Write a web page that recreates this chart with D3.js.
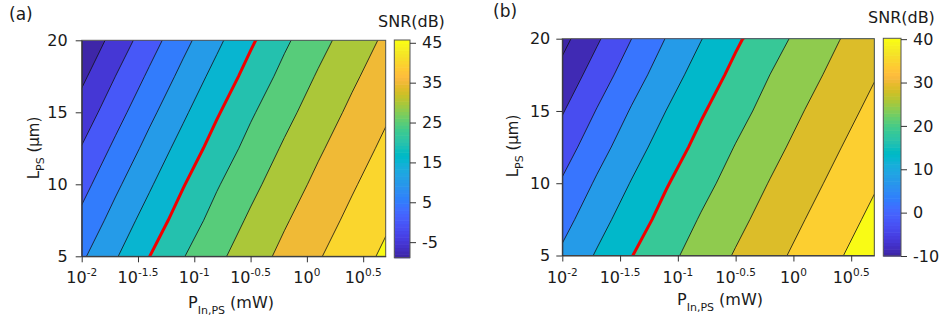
<!DOCTYPE html>
<html><head><meta charset="utf-8">
<script src="https://cdn.jsdelivr.net/npm/d3@7"></script>
<style>
body{margin:0;background:#fff;}
text{font-family:"DejaVu Sans",Arial,sans-serif;fill:#1a1a1a;}
</style>
</head><body>
<svg id="chart" width="944" height="322"></svg>
<script>
// ---------------- data ----------------
// grid columns: log10 of input power P_In,PS (mW)
const pExp = [-2.0, -1.7, -1.4, -1.1, -0.8, -0.5, -0.2, 0.1, 0.4, 0.7];
// grid rows: L_PS (um)
const lengthUm = [5, 7.5, 10, 12.5, 15, 17.5, 20];

// SNR (dB), one row per L value, panel (a)
const snrA = [
  [ 9.24, 14.56, 19.93, 24.76, 28.88, 32.70, 36.27, 39.60, 42.77, 45.90],
  [ 6.28, 11.82, 17.13, 22.25, 26.75, 30.76, 34.48, 37.86, 41.13, 44.27],
  [ 3.28,  9.01, 14.34, 19.70, 24.56, 28.71, 32.54, 36.13, 39.46, 42.64],
  [ 0.26,  6.05, 11.60, 16.90, 22.05, 26.58, 30.61, 34.32, 37.72, 41.00],
  [-2.88,  3.04,  8.77, 14.12, 19.48, 24.36, 28.54, 32.39, 35.99, 39.32],
  [-6.04,  0.01,  5.81, 11.38, 16.68, 21.85, 26.41, 30.45, 34.17, 37.59],
  [-9.19, -3.14,  2.80,  8.53, 13.90, 19.26, 24.16, 28.37, 32.23, 35.85]
];
// SNR (dB), panel (b)
const snrB = [
  [10.89, 15.50, 19.87, 23.65, 27.11, 30.39, 33.51, 36.59, 39.66, 42.72],
  [ 8.27, 13.09, 17.57, 21.67, 25.38, 28.68, 31.87, 34.98, 38.05, 41.12],
  [ 5.52, 10.66, 15.28, 19.65, 23.46, 26.95, 30.24, 33.35, 36.44, 39.51],
  [ 2.60,  8.00, 12.86, 17.35, 21.48, 25.21, 28.52, 31.72, 34.83, 37.90],
  [-0.37,  5.26, 10.43, 15.06, 19.43, 23.27, 26.78, 30.08, 33.19, 36.29],
  [-3.41,  2.32,  7.74, 12.63, 17.14, 21.30, 25.05, 28.35, 31.56, 34.67],
  [-6.45, -0.66,  5.00, 10.20, 14.83, 19.21, 23.08, 26.62, 29.92, 33.04]
];

const levelsA = [-5, 0, 5, 10, 15, 20, 25, 30, 35, 40, 45];
const levelsB = [-5, 0, 5, 10, 15, 20, 25, 30, 35, 40];
const redLevel = 20;

const xTickExps = [-2, -1.5, -1, -0.5, 0, 0.5];
const yTicks = [5, 10, 15, 20];
const cbTicksA = [-5, 5, 15, 25, 35, 45];
const cbTicksB = [-10, 0, 10, 20, 30, 40];
const climA = [-8.9, 45.7];     // colour limits of panel (a)
const climB = [-6.3, 40.2];     // colour limits of the fills of panel (b)
const cbRangeA = [-8.9, 45.7];  // colour bar axis range (a)
const cbRangeB = [-10, 40.2];   // colour bar axis range (b)

// ---------------- style ----------------
const parulaHex = ["#3e26a8","#402ab4","#422ec0","#4332cb","#4537d5","#463cde","#4741e5","#4747eb",
"#484df0","#4852f4","#4758f8","#465efb","#4563fd","#4269fe","#3e6fff","#3875fe","#327cfc","#2f81fa",
"#2e87f7","#2d8cf3","#2b91ef","#2797eb","#259be8","#23a0e5","#20a5e3","#1ca9df","#18addb","#12b1d6",
"#08b5d0","#01b8ca","#02bac3","#0bbdbd","#19bfb6","#24c1ae","#2cc4a7","#31c69f","#37c897","#3fca8e",
"#4acb84","#57cc7a","#64cd6f","#72cd64","#81cc59","#8fcb4e","#9dc943","#abc739","#b9c431","#c5c22a",
"#d1bf27","#dcbd29","#e6bb2d","#f0ba36","#f8ba3d","#febe3c","#fec338","#fec934","#fccf30","#fad62d",
"#f7dc2a","#f5e327","#f5e924","#f6ef20","#f7f51b","#f9fb15"];
function cmap(v, clim){
  let t = (v - clim[0]) / (clim[1] - clim[0]);
  t = Math.max(0, Math.min(1, t));
  return parulaHex[Math.min(63, Math.floor(t * 64))];
}
const FONT = "DejaVu Sans, Arial, sans-serif";

const panels = [
  {label:"(a)", lx:9, ly:20, snr:snrA, levels:levelsA, clim:climA, cbRange:cbRangeA, cbTicks:cbTicksA,
   plot:{x0:81.7, x1:385.7, y0:40.3, y1:256.3}, cb:{x0:394.3, x1:410, y0:40, y1:257.7},
   snrT:{x:378, y:27}, xT:{x:231, y:308}, yT:{x:39, y:148}, yPad:8},
  {label:"(b)", lx:493, ly:17, snr:snrB, levels:levelsB, clim:climB, cbRange:cbRangeB, cbTicks:cbTicksB,
   plot:{x0:562.3, x1:874.3, y0:38.7, y1:255.5}, cb:{x0:883.3, x1:901, y0:38.3, y1:256},
   snrT:{x:868, y:23}, xT:{x:720, y:305}, yT:{x:518, y:146}, yPad:6}
];

const svg = d3.select("#chart");

panels.forEach((cfg, pi) => {
  const g = svg.append("g");
  const n = pExp.length, m = lengthUm.length;
  const x = d3.scaleLog()
    .domain([Math.pow(10, pExp[0]), Math.pow(10, pExp[n - 1])])
    .range([cfg.plot.x0, cfg.plot.x1]);
  const y = d3.scaleLinear()
    .domain([lengthUm[0], lengthUm[m - 1]])
    .range([cfg.plot.y1, cfg.plot.y0]);
  // grid (cell-centre) coordinates -> pixels
  const gx = d3.scaleLinear().domain([0.5, n - 0.5])
    .range([x(Math.pow(10, pExp[0])), x(Math.pow(10, pExp[n - 1]))]);
  const gy = d3.scaleLinear().domain([0.5, m - 0.5])
    .range([y(lengthUm[0]), y(lengthUm[m - 1])]);

  const values = cfg.snr.flat();
  const contours = d3.contours().size([n, m]).thresholds(cfg.levels)(values);
  const path = d3.geoPath(d3.geoTransform({
    point(px, py){ this.stream.point(gx(px), gy(py)); }
  }));

  const clipId = "clip" + pi;
  svg.append("clipPath").attr("id", clipId).append("rect")
    .attr("x", cfg.plot.x0).attr("y", cfg.plot.y0)
    .attr("width", cfg.plot.x1 - cfg.plot.x0).attr("height", cfg.plot.y1 - cfg.plot.y0);

  const pg = g.append("g").attr("clip-path", `url(#${clipId})`);
  const vmin = d3.min(values);
  pg.append("rect")
    .attr("x", cfg.plot.x0).attr("y", cfg.plot.y0)
    .attr("width", cfg.plot.x1 - cfg.plot.x0).attr("height", cfg.plot.y1 - cfg.plot.y0)
    .attr("fill", cmap(vmin, cfg.clim));
  pg.selectAll("path.fill").data(contours).join("path")
    .attr("class", "fill")
    .attr("d", path)
    .attr("fill", d => cmap(d.value, cfg.clim))
    .attr("stroke", "none");
  pg.selectAll("path.line").data(contours).join("path")
    .attr("class", "line")
    .attr("d", path)
    .attr("fill", "none")
    .attr("stroke", d => d.value === redLevel ? "#f00000" : "#111")
    .attr("stroke-width", d => d.value === redLevel ? 3 : 0.8);

  // frame
  g.append("rect")
    .attr("x", cfg.plot.x0).attr("y", cfg.plot.y0)
    .attr("width", cfg.plot.x1 - cfg.plot.x0).attr("height", cfg.plot.y1 - cfg.plot.y0)
    .attr("fill", "none").attr("stroke", "#555").attr("stroke-width", 1);

  // axes
  const ax = g.append("g").attr("transform", `translate(0,${cfg.plot.y1})`)
    .call(d3.axisBottom(x).tickValues(xTickExps.map(e => Math.pow(10, e)))
      .tickFormat(() => "").tickSize(6).tickSizeOuter(0));
  ax.select(".domain").attr("stroke", "#333");
  ax.selectAll(".tick line").attr("stroke", "#333");
  xTickExps.forEach(e => {
    const t = g.append("text")
      .attr("x", x(Math.pow(10, e))).attr("y", 283)
      .attr("text-anchor", "middle").attr("font-size", 16);
    t.append("tspan").text("10");
    t.append("tspan").attr("dy", -7).attr("font-size", 10.5).text(String(e));
  });

  const ay = g.append("g").attr("transform", `translate(${cfg.plot.x0},0)`)
    .call(d3.axisLeft(y).tickValues(yTicks).tickFormat(d => String(d))
      .tickSize(6).tickPadding(cfg.yPad).tickSizeOuter(0));
  ay.select(".domain").attr("stroke", "#333");
  ay.selectAll(".tick line").attr("stroke", "#333");
  ay.selectAll(".tick text").attr("font-size", 16).attr("font-family", FONT).attr("fill", "#1a1a1a");

  // axis titles
  const xt = g.append("text").attr("x", cfg.xT.x).attr("y", cfg.xT.y)
    .attr("text-anchor", "middle").attr("font-size", 16);
  xt.append("tspan").text("P");
  xt.append("tspan").attr("dy", 6).attr("font-size", 11).text("In,PS");
  xt.append("tspan").attr("dy", -6).text(" (mW)");

  const yt = g.append("text")
    .attr("transform", `translate(${cfg.yT.x},${cfg.yT.y}) rotate(-90)`)
    .attr("text-anchor", "middle").attr("font-size", 15);
  yt.append("tspan").text("L");
  yt.append("tspan").attr("dy", 5).attr("font-size", 11).text("PS");
  yt.append("tspan").attr("dy", -5).text(" (\u00b5m)");

  // panel label
  g.append("text").attr("x", cfg.lx).attr("y", cfg.ly).attr("font-size", 17).text(cfg.label);

  // colour bar
  const cbY = d3.scaleLinear().domain(cfg.cbRange).range([cfg.cb.y1, cfg.cb.y0]);
  const bh = (cfg.cb.y1 - cfg.cb.y0) / parulaHex.length;
  g.append("g").selectAll("rect").data(parulaHex).join("rect")
    .attr("x", cfg.cb.x0).attr("width", cfg.cb.x1 - cfg.cb.x0)
    .attr("y", (d, i) => cfg.cb.y1 - (i + 1) * bh).attr("height", bh + 0.6)
    .attr("fill", d => d);
  g.append("rect")
    .attr("x", cfg.cb.x0).attr("y", cfg.cb.y0)
    .attr("width", cfg.cb.x1 - cfg.cb.x0).attr("height", cfg.cb.y1 - cfg.cb.y0)
    .attr("fill", "none").attr("stroke", "#555").attr("stroke-width", 1);
  const acb = g.append("g").attr("transform", `translate(${cfg.cb.x1},0)`)
    .call(d3.axisRight(cbY).tickValues(cfg.cbTicks).tickFormat(d => String(d))
      .tickSize(6).tickPadding(6).tickSizeOuter(0));
  acb.select(".domain").remove();
  acb.selectAll(".tick line").attr("stroke", "#333");
  acb.selectAll(".tick text").attr("font-size", 16).attr("font-family", FONT).attr("fill", "#1a1a1a");

  g.append("text").attr("x", cfg.snrT.x).attr("y", cfg.snrT.y).attr("font-size", 16).text("SNR(dB)");
});
</script>
</body></html>
